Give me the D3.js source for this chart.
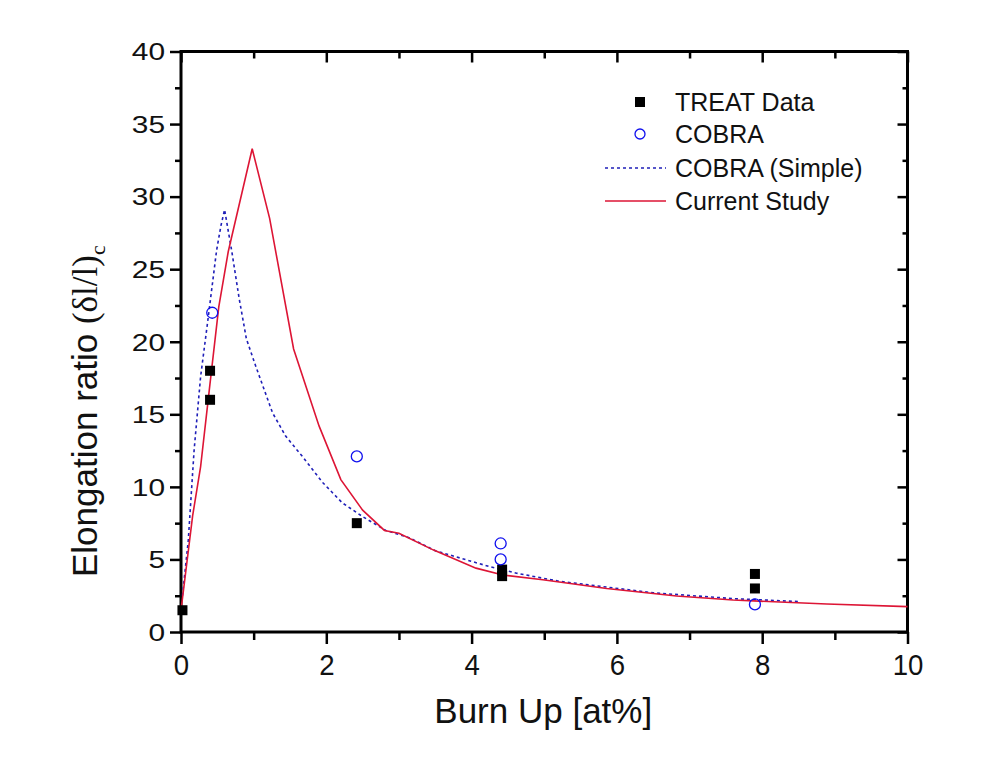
<!DOCTYPE html>
<html>
<head>
<meta charset="utf-8">
<script src="https://cdn.jsdelivr.net/npm/d3@7"></script>
<style>
  body { margin: 0; background: #fff; }
  text { font-family: Arial, "Liberation Sans", sans-serif; fill: #111; }
  .axis text { font-size: 23px; }
  .legend-label { font-size: 25px; }
</style>
</head>
<body>
<svg id="chart" width="1008" height="774" viewBox="0 0 1008 774"></svg>
<script>
const xMajorTicks = [0, 2, 4, 6, 8, 10];
const xMinorTicks = [1, 3, 5, 7, 9];
const yMajorTicks = [0, 5, 10, 15, 20, 25, 30, 35, 40];
const yMinorTicks = [2.5, 7.5, 12.5, 17.5, 22.5, 27.5, 32.5, 37.5];

const treatData = [
  [0.02, 1.5], [0.4, 18.0], [0.4, 16.0], [2.42, 7.5],
  [4.42, 4.3], [4.42, 3.85], [7.9, 4.0], [7.9, 3.0]
];
const cobraData = [
  [0.43, 22.0], [2.42, 12.1], [4.4, 6.1], [4.4, 5.0], [7.9, 1.9]
];
const cobraSimple = [
  [0.02, 2.5], [0.1, 6.3], [0.18, 12.5], [0.27, 17.6], [0.36, 21.1],
  [0.49, 26.3], [0.55, 28.0], [0.6, 29.1], [0.7, 26.2], [0.8, 23.0],
  [0.9, 20.2], [1.03, 18.3], [1.26, 15.1], [1.44, 13.5], [1.67, 12.1],
  [1.95, 10.3], [2.22, 8.9], [2.5, 7.95], [2.82, 7.0], [3.14, 6.5],
  [3.5, 5.6], [4.25, 4.5], [4.62, 4.05], [5.2, 3.5], [6.5, 2.7],
  [7.6, 2.3], [8.5, 2.1]
];
const currentStudy = [
  [0.0, 1.5], [0.16, 8.0], [0.27, 11.4], [0.39, 16.7], [0.52, 22.4],
  [0.65, 26.2], [0.98, 33.3], [1.22, 28.5], [1.55, 19.5], [1.9, 14.2],
  [2.2, 10.5], [2.5, 8.4], [2.8, 7.0], [3.0, 6.8], [3.47, 5.66],
  [4.06, 4.4], [4.43, 3.93], [4.98, 3.6], [5.86, 3.0], [6.82, 2.48],
  [7.6, 2.2], [8.89, 1.93], [10.0, 1.75]
];
const legendItems = ["TREAT Data", "COBRA", "COBRA (Simple)", "Current Study"];

const BLUE = "#1f1fb8";
const RED = "#dd1535";

const svg = d3.select("#chart");
const margin = { top: 51.5, right: 100.5, bottom: 142, left: 181 };
const width = 1008, height = 774;

const x = d3.scaleLinear().domain([0, 10]).range([margin.left, width - margin.right]);
const y = d3.scaleLinear().domain([0, 40]).range([height - margin.bottom, margin.top]);

// frame
svg.append("rect")
  .attr("x", x(0)).attr("y", y(40))
  .attr("width", x(10) - x(0)).attr("height", y(0) - y(40))
  .attr("fill", "none").attr("stroke", "#000").attr("stroke-width", 3);

function addAxis(axis, transform, cls) {
  const g = svg.append("g").attr("class", "axis " + cls)
    .attr("transform", transform).call(axis);
  g.select(".domain").remove();
  g.selectAll("line").attr("stroke", "#000").attr("stroke-width", 2.5);
  return g;
}

// bottom
const bottom = addAxis(d3.axisBottom(x).tickValues(xMajorTicks).tickSize(12).tickFormat(d3.format("d")),
  `translate(0,${y(0)})`, "axis-x");
bottom.selectAll("text").attr("y", 0).attr("dy", 0)
  .attr("transform", "translate(0,43) scale(1.2,1.25)");
addAxis(d3.axisBottom(x).tickValues(xMinorTicks).tickSize(8).tickFormat(""), `translate(0,${y(0)})`, "minor");

// top
addAxis(d3.axisTop(x).tickValues(xMajorTicks).tickSize(-11).tickFormat(""), `translate(0,${y(40)})`, "top");
addAxis(d3.axisTop(x).tickValues(xMinorTicks).tickSize(-7).tickFormat(""), `translate(0,${y(40)})`, "top-minor");

// left
const left = addAxis(d3.axisLeft(y).tickValues(yMajorTicks).tickSize(11).tickFormat(d3.format("d")),
  `translate(${x(0)},0)`, "axis-y");
left.selectAll("text").attr("x", 0).attr("dy", "0.36em")
  .attr("transform", "translate(-16,0) scale(1.3,1)");
addAxis(d3.axisLeft(y).tickValues(yMinorTicks).tickSize(6).tickFormat(""), `translate(${x(0)},0)`, "left-minor");

// right
addAxis(d3.axisRight(y).tickValues(yMajorTicks).tickSize(-10).tickFormat(""), `translate(${x(10)},0)`, "right");
addAxis(d3.axisRight(y).tickValues(yMinorTicks).tickSize(-5).tickFormat(""), `translate(${x(10)},0)`, "right-minor");

const line = d3.line().x(d => x(d[0])).y(d => y(d[1]));

svg.append("path").datum(cobraSimple)
  .attr("d", line).attr("fill", "none")
  .attr("stroke", BLUE).attr("stroke-width", 1.6).attr("stroke-dasharray", "3,3");

svg.append("path").datum(currentStudy)
  .attr("d", line).attr("fill", "none")
  .attr("stroke", RED).attr("stroke-width", 1.6);

svg.append("g").selectAll("rect").data(treatData).join("rect")
  .attr("x", d => x(d[0]) - 5).attr("y", d => y(d[1]) - 5)
  .attr("width", 10).attr("height", 10).attr("fill", "#000");

svg.append("g").selectAll("circle").data(cobraData).join("circle")
  .attr("cx", d => x(d[0])).attr("cy", d => y(d[1])).attr("r", 5.5)
  .attr("fill", "none").attr("stroke", "#1010ee").attr("stroke-width", 1.3);

// legend
const legend = svg.append("g").attr("class", "legend");
const legendRows = [102, 134, 168, 201];
const legendX = 640;

legend.append("rect").attr("x", legendX - 5).attr("y", legendRows[0] - 5)
  .attr("width", 10).attr("height", 10).attr("fill", "#000");
legend.append("circle").attr("cx", legendX).attr("cy", legendRows[1]).attr("r", 5)
  .attr("fill", "none").attr("stroke", "#1010ee").attr("stroke-width", 1.3);
legend.append("line").attr("x1", 605).attr("x2", 666).attr("y1", legendRows[2]).attr("y2", legendRows[2])
  .attr("stroke", BLUE).attr("stroke-width", 1.4).attr("stroke-dasharray", "3,3");
legend.append("line").attr("x1", 605).attr("x2", 666).attr("y1", legendRows[3]).attr("y2", legendRows[3])
  .attr("stroke", RED).attr("stroke-width", 1.6);

legend.selectAll("text").data(legendItems).join("text")
  .attr("class", "legend-label")
  .attr("x", 675).attr("y", (_d, i) => legendRows[i]).attr("dy", "0.36em")
  .text(d => d);

// axis titles
svg.append("text")
  .attr("x", (x(0) + x(10)) / 2 - 1).attr("y", 723)
  .attr("text-anchor", "middle").style("font-size", "35px")
  .text("Burn Up [at%]");

const yTitle = svg.append("text")
  .attr("transform", "translate(97,577) rotate(-90)")
  .style("font-size", "35px");
yTitle.append("tspan").text("Elongation ratio ");
yTitle.append("tspan").style("font-family", "'Liberation Serif', 'Times New Roman', serif").text("(δl/l)");
yTitle.append("tspan").style("font-family", "'Liberation Serif', 'Times New Roman', serif")
  .style("font-size", "22px").attr("dy", 8).text("c");
</script>
</body>
</html>
